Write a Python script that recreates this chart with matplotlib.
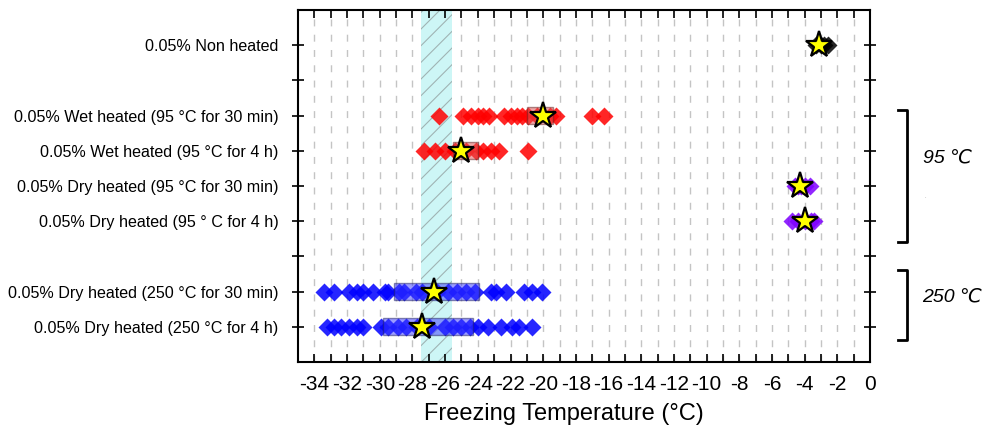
import matplotlib
matplotlib.use("Agg")
import matplotlib.pyplot as plt
from matplotlib.patches import Rectangle
from matplotlib.lines import Line2D

plt.rcParams['font.family'] = ['Liberation Sans', 'DejaVu Sans']
plt.rcParams['hatch.linewidth'] = 0.8

labels = ["0.05% Non heated", "",
          "0.05% Wet heated (95 \u00b0C for 30 min)",
          "0.05% Wet heated (95 \u00b0C for 4 h)",
          "0.05% Dry heated (95 \u00b0C for 30 min)",
          "0.05% Dry heated (95 \u00b0 C for 4 h)",
          "",
          "0.05% Dry heated (250 \u00b0C for 30 min)",
          "0.05% Dry heated (250 \u00b0C for 4 h)"]

non_heated = [-3.3, -3.0, -2.8, -2.6]
wet_30 = [-26.4, -24.9, -24.4, -24.0, -23.7, -23.3, -22.4, -22.0, -21.6, -21.3,
          -20.9, -20.4, -19.6, -19.2, -17.0, -16.3]
wet_4h = [-27.3, -26.6, -26.0, -25.4, -24.7, -24.1, -23.7, -23.2, -22.7, -20.9]
dry95_30 = [-4.6, -4.4, -4.2, -4.0, -3.7]
dry95_4h = [-4.8, -4.4, -4.0, -3.6, -3.4]
dry250_30 = [-33.4, -32.8, -31.9, -31.4, -31.0, -30.4, -29.7, -29.5, -28.8, -28.5,
             -27.8, -27.4, -26.5, -25.8, -25.3, -24.7, -24.2, -23.2, -22.9, -22.3,
             -21.2, -20.7, -20.1]
dry250_4h = [-33.2, -32.8, -32.4, -31.9, -31.4, -31.0, -29.9, -29.5, -28.9, -28.4,
             -27.7, -27.0, -26.0, -25.5, -25.0, -24.5, -24.0, -23.4, -22.6, -21.9,
             -21.5, -20.7]

groups_y = [0, 2, 3, 4, 5, 7, 8]
groups_pts = [non_heated, wet_30, wet_4h, dry95_30, dry95_4h, dry250_30, dry250_4h]
groups_col = ['#000000', '#ff0000', '#ff0000', '#7f00ff', '#7f00ff', '#0000ff', '#0000ff']
medians = [-3.1, -20.0, -25.0, -4.3, -4.0, -26.7, -27.4]
box_lo = [None, -21.0, -25.5, None, None, -29.1, -29.8]
box_hi = [None, -19.4, -24.0, None, None, -23.9, -24.3]
band = (-27.5, -25.6)

fig = plt.figure(figsize=(9.87, 4.26), dpi=100)
ax = fig.add_axes([0.302, 0.150, 0.5795, 0.8265])

ax.set_xlim(-35, 0)
ax.set_ylim(9, -1)

for v in range(-34, 0):
    ax.axvline(v, color='#c4c4c4', lw=1.0, ls=(0, (5, 6)), zorder=0)

ax.axvspan(band[0], band[1], facecolor='#cdf6f6', edgecolor='#a0b4b4',
           hatch='//', lw=0, zorder=1)

for y, pts, c, lo, hi in zip(groups_y, groups_pts, groups_col, box_lo, box_hi):
    ax.plot(pts, [y] * len(pts), ls='none', marker='D', ms=9.5, color=c,
            alpha=0.85, mec='none', zorder=3)
    if lo is not None:
        fc = '#3a3aff' if c == '#0000ff' else '#e05050'
        ax.add_patch(Rectangle((lo, y - 0.24), hi - lo, 0.48, facecolor=fc,
                               alpha=0.5, edgecolor='#202060' if c == '#0000ff' else '#602020',
                               lw=1.0, zorder=4))

ax.plot(medians, groups_y, ls='none', marker='*', ms=20, mfc='#ffff00',
        mec='black', mew=1.6, zorder=5)

ax.set_yticks(range(9))
ax.set_yticklabels(labels, fontsize=11.6)
ax.set_xticks(range(-34, 1, 2))
ax.set_xticklabels([str(v) for v in range(-34, 1, 2)], fontsize=15)
ax.set_xticks(range(-35, 1), minor=True)
ax.tick_params(axis='x', which='both', direction='in', top=True, bottom=True,
               length=6, width=1.2, pad=9)
ax.tick_params(axis='x', which='minor', length=6)
ax.tick_params(axis='y', direction='inout', left=True, right=True, length=8,
               width=1.2, pad=10)
for s in ax.spines.values():
    s.set_linewidth(1.5)
ax.set_xlabel('Freezing Temperature (\u00b0C)', fontsize=17, labelpad=4)
ax.xaxis.set_label_coords(0.465, -0.115)

# brackets on the right
def bracket(y0, y1):
    x0, x1 = 898 / 987, 907 / 987
    yy0, yy1 = 1 - y0 / 426, 1 - y1 / 426
    fig.add_artist(Line2D([x0, x1, x1, x0], [yy0, yy0, yy1, yy1], color='black',
                          lw=2, transform=fig.transFigure))

bracket(110, 242)
bracket(270, 340)
fig.text(948 / 987, 1 - 158 / 426, '95 \u2103', fontsize=14, style='italic',
         ha='center', va='center')
fig.text(952 / 987, 1 - 297 / 426, '250 \u2103', fontsize=14, style='italic',
         ha='center', va='center')
fig.text(925 / 987, 1 - 196 / 426, '.', fontsize=4, color='#888888',
         ha='center', va='center')

fig.savefig('out.png', dpi=100)
